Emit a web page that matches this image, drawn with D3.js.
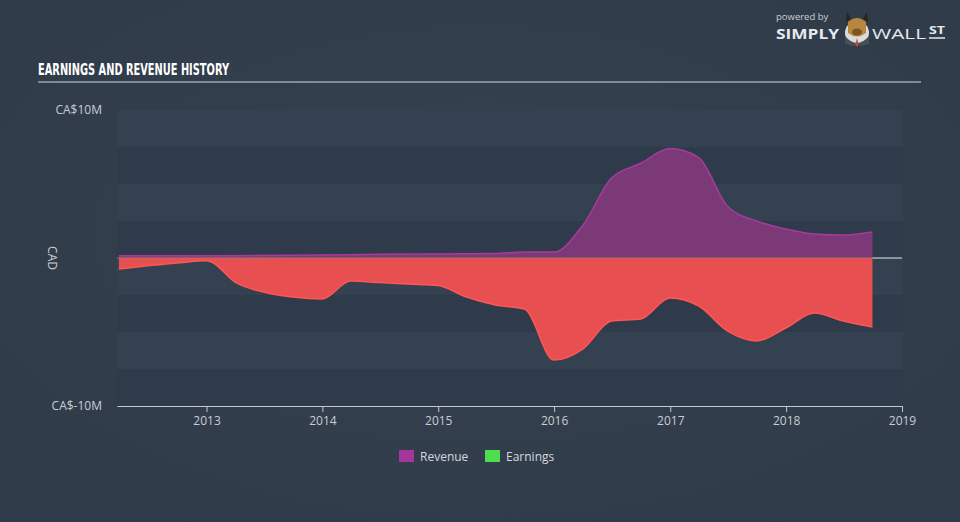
<!DOCTYPE html>
<html>
<head>
<meta charset="utf-8">
<script src="https://cdn.jsdelivr.net/npm/d3@7/dist/d3.min.js"></script>
<style>
  html, body { margin: 0; padding: 0; background: #333f4f; }
  svg { display: block; }
</style>
</head>
<body>
<svg id="chart" width="960" height="522"></svg>
<script>
// ---- data (values in CA$ millions) ----
const revenueDates = ["2012-03-31","2012-12-31","2013-12-31","2014-06-30","2014-12-31","2015-06-30","2015-09-30","2015-12-31","2016-03-31","2016-06-30","2016-09-30","2016-12-31","2017-03-31","2017-06-30","2017-09-30","2017-12-31","2018-03-31","2018-06-30","2018-09-30"];
const revenueValues = [0.15, 0.15, 0.2, 0.25, 0.27, 0.3, 0.4, 0.4, 2.2, 5.4, 6.4, 7.4, 6.8, 3.5, 2.5, 1.96, 1.62, 1.55, 1.76];

const earningsDates = ["2012-03-31","2012-09-30","2012-12-31","2013-01-15","2013-03-31","2013-06-30","2013-09-30","2013-12-31","2014-03-31","2014-06-30","2014-09-30","2014-12-31","2015-03-31","2015-06-30","2015-09-30","2015-12-31","2016-03-31","2016-06-30","2016-09-30","2016-12-31","2017-03-31","2017-06-30","2017-09-30","2017-12-31","2018-03-31","2018-06-30","2018-09-30"];
const earningsValues = [-0.74, -0.34, -0.18, -0.25, -1.62, -2.3, -2.64, -2.77, -1.55, -1.66, -1.76, -1.86, -2.64, -3.18, -3.45, -6.9, -6.15, -4.26, -4.12, -2.7, -3.24, -4.93, -5.6, -4.73, -3.72, -4.26, -4.66];

const xTickYears = [2013, 2014, 2015, 2016, 2017, 2018, 2019];
const yTickValues = [-10, 10];
const yTickLabels = ["CA$-10M", "CA$10M"];
const legendNames = ["Revenue", "Earnings"];
const legendColors = ["#a3369a", "#4fdc4e"];
const titleText = "EARNINGS AND REVENUE HISTORY";

// ---- setup ----
const svg = d3.select("#chart");
const W = 960, H = 522;
const parse = d3.timeParse("%Y-%m-%d");
const revenue = revenueDates.map((d, i) => ({ date: parse(d), v: revenueValues[i] }));
const earnings = earningsDates.map((d, i) => ({ date: parse(d), v: earningsValues[i] }));

const plotL = 117, plotR = 902, plotT = 110, plotB = 406;

const x = d3.scaleTime()
  .domain([parse("2012-03-25"), new Date(2019, 0, 1)])
  .range([plotL, plotR]);
const y = d3.scaleLinear().domain([-10, 10]).range([plotB, plotT]);

// background with subtle radial lighten
const defs = svg.append("defs");
const rg = defs.append("radialGradient").attr("id", "bg").attr("cx", "50%").attr("cy", "45%").attr("r", "65%");
rg.append("stop").attr("offset", "0%").attr("stop-color", "#36424f");
rg.append("stop").attr("offset", "100%").attr("stop-color", "#303b4a");
svg.append("rect").attr("width", W).attr("height", H).attr("fill", "url(#bg)");

// title
svg.append("text")
  .attr("x", 38).attr("y", 75)
  .attr("fill", "#ffffff")
  .attr("font-family", "'Liberation Sans Narrow', 'DejaVu Sans Condensed', sans-serif")
  .attr("font-weight", "bold")
  .attr("font-size", 16)
  .attr("textLength", 191)
  .attr("lengthAdjust", "spacingAndGlyphs")
  .text(titleText);
svg.append("line")
  .attr("x1", 38).attr("x2", 921).attr("y1", 82).attr("y2", 82)
  .attr("stroke", "#9aa4b0").attr("stroke-width", 1.5);

// logo
const logo = svg.append("g").attr("font-family", "'Open Sans', sans-serif");
logo.append("text").attr("x", 776).attr("y", 20).attr("fill", "#c9ced6").attr("font-size", 9.5).text("powered by");
logo.append("text").attr("x", 776).attr("y", 39).attr("fill", "#e6e9ed").attr("font-size", 14).attr("font-weight", "bold")
  .attr("textLength", 63).attr("lengthAdjust", "spacingAndGlyphs").text("SIMPLY");
logo.append("circle").attr("cx", 857).attr("cy", 33).attr("r", 12).attr("fill", "#d8dbe0");
logo.append("path").attr("d", "M845,36 Q857,50 869,36 L869,44 Q857,48 845,44 Z").attr("fill", "#4a4d52");
logo.append("path").attr("d", "M848,22 Q857,14 866,22 L866,33 Q857,40 848,33 Z").attr("fill", "#b8863f");
logo.append("ellipse").attr("cx", 857).attr("cy", 32).attr("rx", 5).attr("ry", 3.5).attr("fill", "#7a5426");
logo.append("path").attr("d", "M846,22 L847,12 L851,19 Z M868,22 L867,12 L863,19 Z").attr("fill", "#2c2418");
logo.append("path").attr("d", "M857,38 L855.5,44 L857,47 L858.5,44 Z").attr("fill", "#d4452d");
logo.append("text").attr("x", 872).attr("y", 39).attr("fill", "#e6e9ed").attr("font-size", 15)
  .attr("textLength", 54).attr("lengthAdjust", "spacingAndGlyphs").text("WALL");
logo.append("text").attr("x", 929).attr("y", 34).attr("fill", "#e6e9ed").attr("font-size", 11).attr("font-weight", "bold")
  .attr("textLength", 16).attr("lengthAdjust", "spacingAndGlyphs").text("ST");
logo.append("line").attr("x1", 929).attr("x2", 945).attr("y1", 38).attr("y2", 38).attr("stroke", "#e6e9ed").attr("stroke-width", 1.5);

// stripes (bands every 2.5M)
const bandEdges = d3.range(-10, 10, 2.5);
svg.append("g").selectAll("rect").data(bandEdges).join("rect")
  .attr("x", plotL).attr("width", plotR + 1 - plotL)
  .attr("y", d => y(d + 2.5)).attr("height", d => y(d) - y(d + 2.5))
  .attr("fill", (d, i) => (i % 2 === 0) ? "#2f3b4b" : "#344150");

// areas
const curve = d3.curveMonotoneX;
const revArea = d3.area().x(d => x(d.date)).y0(y(0)).y1(d => y(d.v)).curve(curve);
const revLine = d3.line().x(d => x(d.date)).y(d => y(d.v)).curve(curve);
const earnArea = d3.area().x(d => x(d.date)).y0(y(0)).y1(d => y(d.v)).curve(curve);
const earnLine = d3.line().x(d => x(d.date)).y(d => y(d.v)).curve(curve);

svg.append("path").datum(revenue).attr("d", revArea).attr("fill", "#7b3a77");
svg.append("path").datum(revenue).attr("d", revLine).attr("fill", "none").attr("stroke", "#a73b9d").attr("stroke-width", 1.5);
svg.append("path").datum(earnings).attr("d", earnArea).attr("fill", "#e84f50");
svg.append("path").datum(earnings).attr("d", earnLine).attr("fill", "none").attr("stroke", "#ff5656").attr("stroke-width", 1.5);

// zero line
const lastDate = revenue[revenue.length - 1].date;
svg.append("line")
  .attr("x1", plotL).attr("x2", x(lastDate)).attr("y1", y(0)).attr("y2", y(0))
  .attr("stroke", "#b07060").attr("stroke-width", 1);
svg.append("line")
  .attr("x1", x(lastDate)).attr("x2", plotR).attr("y1", y(0)).attr("y2", y(0))
  .attr("stroke", "#e8ebef").attr("stroke-width", 1);

// x axis
const xAxis = d3.axisBottom(x)
  .tickValues(xTickYears.map(yr => new Date(yr, 0, 1)))
  .tickFormat(d3.timeFormat("%Y"))
  .tickSize(6).tickSizeOuter(0);
const gx = svg.append("g").attr("transform", `translate(0,${plotB})`).call(xAxis);
gx.select(".domain").attr("stroke", "#c4cad2").attr("stroke-width", 1.2);
gx.selectAll(".tick line").attr("stroke", "#c4cad2");
gx.selectAll(".tick text").attr("fill", "#c8cdd4").attr("font-size", 12)
  .attr("font-family", "'Open Sans', sans-serif").attr("dy", "0.85em");

// y labels
svg.append("g").selectAll("text").data(yTickValues).join("text")
  .attr("x", 102).attr("y", d => y(d)).attr("dy", "0.35em")
  .attr("text-anchor", "end")
  .attr("fill", "#c8cdd4").attr("font-size", 12)
  .attr("font-family", "'Open Sans', sans-serif")
  .text((d, i) => yTickLabels[i]);
svg.append("text")
  .attr("transform", `translate(48,${y(0)}) rotate(90)`)
  .attr("text-anchor", "middle")
  .attr("fill", "#c8cdd4").attr("font-size", 12)
  .attr("font-family", "'Open Sans', sans-serif")
  .text("CAD");

// legend
const legend = svg.append("g").attr("font-family", "'Open Sans', sans-serif");
const legX = [399, 485];
legendNames.forEach((name, i) => {
  legend.append("rect").attr("x", legX[i]).attr("y", 450).attr("width", 15).attr("height", 12).attr("fill", legendColors[i]);
  legend.append("text").attr("x", legX[i] + 21).attr("y", 460.5).attr("fill", "#d4d8de").attr("font-size", 12).text(name);
});
</script>
</body>
</html>
